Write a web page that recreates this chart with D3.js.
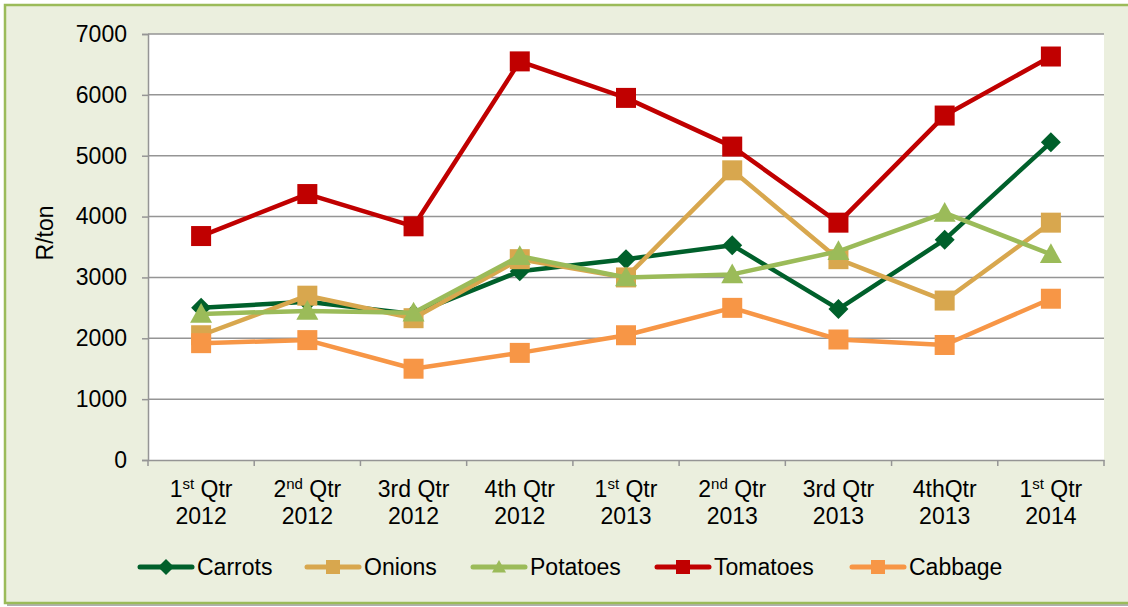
<!DOCTYPE html>
<html lang="en">
<head>
<meta charset="UTF-8">
<title>Vegetable prices</title>
<script src="https://cdn.jsdelivr.net/npm/d3@7"></script>
<style>
  body { margin: 0; background: #fff; }
  text { font-family: "Liberation Sans", Arial, sans-serif; fill: #000; }
</style>
</head>
<body>
<script>
    // categories: [first line, superscript, rest of first line, second line]
    var categories = [
        ["1", "st", " Qtr", "2012"],
        ["2", "nd", " Qtr", "2012"],
        ["3rd Qtr", "", "", "2012"],
        ["4th Qtr", "", "", "2012"],
        ["1", "st", " Qtr", "2013"],
        ["2", "nd", " Qtr", "2013"],
        ["3rd Qtr", "", "", "2013"],
        ["4thQtr", "", "", "2013"],
        ["1", "st", " Qtr", "2014"]
    ];
    var yTicks = [0, 1000, 2000, 3000, 4000, 5000, 6000, 7000];

    var carrots  = [2500, 2600, 2400, 3100, 3300, 3530, 2480, 3620, 5220];
    var onions   = [2050, 2700, 2330, 3300, 3000, 4760, 3300, 2620, 3900];
    var potatoes = [2400, 2450, 2420, 3350, 3000, 3050, 3430, 4060, 3380];
    var tomatoes = [3680, 4370, 3840, 6550, 5950, 5150, 3900, 5660, 6630];
    var cabbage  = [1920, 1970, 1500, 1760, 2050, 2500, 1980, 1890, 2650];

    var series = [
        {name: "Carrots",  values: carrots,  color: "#00602b", shape: "diamond"},
        {name: "Onions",   values: onions,   color: "#d8a74e", shape: "square"},
        {name: "Potatoes", values: potatoes, color: "#9bbb59", shape: "triangle"},
        {name: "Tomatoes", values: tomatoes, color: "#c00000", shape: "square"},
        {name: "Cabbage",  values: cabbage,  color: "#f79646", shape: "square"}
    ];

    var width = 1128, height = 607;
    var plot = {left: 148, right: 1104, top: 34, bottom: 460};
    var fontSize = "23px";

    var svg = d3.select("body").append("svg")
        .attr("width", width)
        .attr("height", height);

    // frame + shadow
    svg.append("rect").attr("x", 7).attr("y", 7).attr("width", 1130).attr("height", 599)
        .attr("fill", "#b0b0b0");
    svg.append("rect").attr("x", 5).attr("y", 5).attr("width", 1130).attr("height", 598)
        .attr("fill", "#ebefde").attr("stroke", "#9bbb59").attr("stroke-width", 2.5);

    svg.append("rect")
        .attr("x", plot.left).attr("y", plot.top)
        .attr("width", plot.right - plot.left).attr("height", plot.bottom - plot.top)
        .attr("fill", "#fff");

    var x = d3.scaleBand().domain(d3.range(categories.length))
        .range([plot.left, plot.right]);
    var y = d3.scaleLinear().domain([0, 7000]).range([plot.bottom, plot.top]);

    // gridlines
    svg.append("g").selectAll("line").data(yTicks.slice(1)).enter().append("line")
        .attr("x1", plot.left).attr("x2", plot.right)
        .attr("y1", function (d) { return y(d); })
        .attr("y2", function (d) { return y(d); })
        .attr("stroke", "#959595").attr("stroke-width", 1.5);

    // y axis
    var yAxis = svg.append("g")
        .attr("transform", "translate(" + plot.left + ",0)")
        .call(d3.axisLeft(y).tickValues(yTicks).tickSize(6).tickPadding(15).tickFormat(d3.format("d")));
    yAxis.select(".domain").attr("stroke", "#959595").attr("stroke-width", 1.5);
    yAxis.selectAll(".tick line").attr("stroke", "#959595").attr("stroke-width", 1.5);
    yAxis.selectAll(".tick text").style("font-size", fontSize).attr("fill", "#000")
        .style("font-family", "'Liberation Sans', Arial, sans-serif");

    // x axis
    var xAxis = svg.append("g")
        .attr("transform", "translate(0," + plot.bottom + ")")
        .call(d3.axisBottom(x).tickSize(0).tickFormat(""));
    xAxis.select(".domain").attr("stroke", "#959595").attr("stroke-width", 1.5);
    xAxis.selectAll(".tick").remove();
    xAxis.selectAll("line.sep").data(d3.range(categories.length + 1)).enter().append("line")
        .attr("class", "sep")
        .attr("x1", function (i) { return plot.left + i * x.step(); })
        .attr("x2", function (i) { return plot.left + i * x.step(); })
        .attr("y1", 0).attr("y2", 6)
        .attr("stroke", "#959595").attr("stroke-width", 1.5);

    var xl = svg.append("g").selectAll("g").data(categories).enter().append("g")
        .attr("transform", function (d, i) { return "translate(" + (x(i) + x.bandwidth() / 2) + ",0)"; });
    var line1 = xl.append("text").attr("y", 497).attr("text-anchor", "middle").style("font-size", fontSize);
    line1.append("tspan").text(function (d) { return d[0]; });
    line1.append("tspan").attr("dy", -8).style("font-size", "15px").text(function (d) { return d[1]; });
    line1.append("tspan").attr("dy", function (d) { return d[1] ? 8 : 0; }).text(function (d) { return d[2]; });
    xl.append("text").attr("y", 524).attr("text-anchor", "middle").style("font-size", fontSize)
        .text(function (d) { return d[3]; });

    // y title
    svg.append("text")
        .attr("transform", "translate(53,233) rotate(-90)")
        .attr("text-anchor", "middle").style("font-size", fontSize).text("R/ton");

    function marker(g, shape, size, color) {
        var s = size / 2;
        if (shape === "square") {
            g.append("rect").attr("x", -s).attr("y", -s).attr("width", size).attr("height", size)
                .attr("fill", color);
        } else if (shape === "diamond") {
            g.append("path").attr("d", "M0," + (-s) + "L" + s + ",0L0," + s + "L" + (-s) + ",0Z")
                .attr("fill", color);
        } else {
            g.append("path").attr("d", "M0," + (-s) + "L" + s + "," + (s * 0.8) + "L" + (-s) + "," + (s * 0.8) + "Z")
                .attr("fill", color);
        }
    }

    var line = d3.line()
        .x(function (d, i) { return x(i) + x.bandwidth() / 2; })
        .y(function (d) { return y(d); });

    series.forEach(function (s) {
        var g = svg.append("g");
        g.append("path").datum(s.values).attr("d", line)
            .attr("fill", "none").attr("stroke", s.color).attr("stroke-width", 4.5)
            .attr("stroke-linejoin", "round");
        g.selectAll("g.m").data(s.values).enter().append("g").attr("class", "m")
            .attr("transform", function (d, i) { return "translate(" + (x(i) + x.bandwidth() / 2) + "," + y(d) + ")"; })
            .each(function () {
                marker(d3.select(this), s.shape, s.shape === "triangle" ? 22 : 20, s.color);
            });
    });

    // legend
    var legendX = [138, 305, 471, 655, 850];
    var legendY = 567;
    series.forEach(function (s, i) {
        var g = svg.append("g").attr("transform", "translate(" + legendX[i] + "," + legendY + ")");
        g.append("line").attr("x1", 2).attr("x2", 54).attr("y1", 0).attr("y2", 0)
            .attr("stroke", s.color).attr("stroke-width", 5).attr("stroke-linecap", "round");
        var mg = g.append("g").attr("transform", "translate(28,0)");
        marker(mg, s.shape, s.shape === "diamond" ? 16 : 14, s.color);
        g.append("text").attr("x", 59).attr("y", 8).style("font-size", fontSize).text(s.name);
    });
</script>
</body>
</html>
